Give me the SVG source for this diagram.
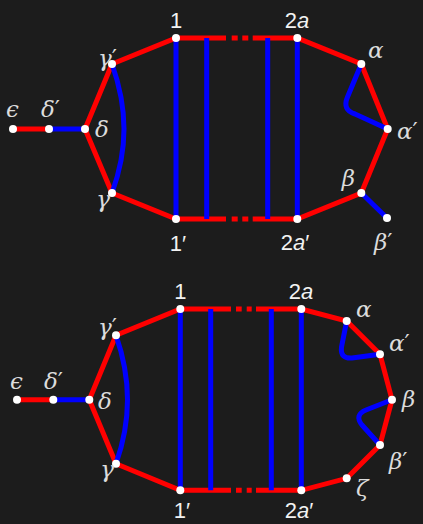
<svg xmlns="http://www.w3.org/2000/svg" width="423" height="524" viewBox="0 0 423 524">
<style>
.r{stroke:#ff0000;stroke-width:5;fill:none;stroke-linecap:butt}
.b{stroke:#0000ff;stroke-width:5;fill:none;stroke-linecap:butt;stroke-linejoin:round}
.n{fill:#ffffff}
.d{font-family:"Liberation Sans","DejaVu Sans",sans-serif;font-size:22px;fill:#f2f2f2;text-anchor:middle}
.g{font-family:"DejaVu Serif","Liberation Serif",serif;font-style:italic;font-size:23px;fill:#dcdcdc}
.e{text-anchor:end}
.i{font-style:italic}
.p{font-family:"DejaVu Sans",sans-serif;font-style:normal}
</style>
<rect width="423" height="524" fill="#1c1c1c"/>
<g id="connectors">
<path class="r" d="M13,129 L49,129"/>
<path class="r" d="M112,64 L85,129 L112,193"/>
<path class="r" d="M112,64 L176,38 L226,38 M231.7,38 L237.7,38 M242.3,38 L248.3,38 M252.7,38 L297.3,38 L361.3,64 L387.7,129 L361.3,193 L297.3,219 L252.7,219 M248.3,219 L242.3,219 M237.7,219 L231.7,219 M226,219 L176,219 L112,193"/>
<path class="b" d="M49,129 L85,129"/>
<path class="b" d="M112,64 Q124,98 124,129 Q124,160 112,193"/>
<path class="b" d="M176,38 L176,219 M206.7,38 L206.7,219 M267.7,38 L267.7,219 M297.3,38 L297.3,219"/>
<path class="b" d="M361.3,64 L347.5,97 Q342,110 355,114 L387.7,129"/>
<path class="b" d="M361.3,193 L387,218"/>
<path class="r" d="M17,399.7 L53.3,399.7"/>
<path class="r" d="M116,335.3 L89.3,399.7 L116,463.7"/>
<path class="r" d="M116,335.3 L180.3,309 L231,309 M236,309 L241.7,309 M246.7,309 L251.7,309 M256,309 L301.3,309 L346.7,321 L380,354.3 L392,399.7 L380,445 L346.7,478.3 L301.3,490.3 L256,490.3 M251.7,490.3 L246.7,490.3 M241.7,490.3 L236,490.3 M231,490.3 L180.3,490.3 L116,463.7"/>
<path class="b" d="M53.3,399.7 L89.3,399.7"/>
<path class="b" d="M116,335.3 Q127.5,368 127.5,399.7 Q127.5,431 116,463.7"/>
<path class="b" d="M180.3,309 L180.3,490.3 M210.7,309 L210.7,490.3 M271.3,309 L271.3,490.3 M301.3,309 L301.3,490.3"/>
<path class="b" d="M346.7,321 L341.5,347 Q340,359 352,358 L380,354.3"/>
<path class="b" d="M392,399.7 L366,410 Q354,415 362,425 L380,445"/>
</g>
<g id="t-eps"><circle class="n" cx="13" cy="129" r="4"/><text class="g" x="6" y="117">ϵ</text></g>
<g id="t-deltap"><circle class="n" cx="49" cy="129" r="4"/><text class="g" x="41" y="117">δ<tspan class="p">′</tspan></text></g>
<g id="t-delta"><circle class="n" cx="85" cy="129" r="4"/><text class="g" x="95" y="137">δ</text></g>
<g id="t-gammap"><circle class="n" cx="112" cy="64" r="4"/><text class="g e" x="117" y="66">γ<tspan class="p">′</tspan></text></g>
<g id="t-gamma"><circle class="n" cx="112" cy="193" r="4"/><text class="g e" x="110" y="207">γ</text></g>
<g id="t-1"><circle class="n" cx="176" cy="38" r="4"/><text class="d" x="176" y="28">1</text></g>
<g id="t-1p"><circle class="n" cx="176" cy="219" r="4"/><text class="d" x="178" y="251">1′</text></g>
<g id="t-2a"><circle class="n" cx="297.3" cy="38" r="4"/><text class="d" x="297" y="28">2<tspan class="i">a</tspan></text></g>
<g id="t-2ap"><circle class="n" cx="297.3" cy="219" r="4"/><text class="d" x="295" y="250">2<tspan class="i">a</tspan>′</text></g>
<g id="t-alpha"><circle class="n" cx="361.3" cy="64" r="4"/><text class="g" x="368" y="58">α</text></g>
<g id="t-alphap"><circle class="n" cx="387.7" cy="129" r="4"/><text class="g" x="397" y="139">α<tspan class="p">′</tspan></text></g>
<g id="t-beta"><circle class="n" cx="361.3" cy="193" r="4"/><text class="g e" x="355" y="186">β</text></g>
<g id="t-betap"><circle class="n" cx="387" cy="218" r="4"/><text class="g" x="374" y="250">β<tspan class="p">′</tspan></text></g>
<g id="b-eps"><circle class="n" cx="17" cy="399.7" r="4"/><text class="g" x="10" y="389">ϵ</text></g>
<g id="b-deltap"><circle class="n" cx="53.3" cy="399.7" r="4"/><text class="g" x="44" y="389">δ<tspan class="p">′</tspan></text></g>
<g id="b-delta"><circle class="n" cx="89.3" cy="399.7" r="4"/><text class="g" x="98" y="409">δ</text></g>
<g id="b-gammap"><circle class="n" cx="116" cy="335.3" r="4"/><text class="g e" x="117" y="335">γ<tspan class="p">′</tspan></text></g>
<g id="b-gamma"><circle class="n" cx="116" cy="463.7" r="4"/><text class="g e" x="114" y="477">γ</text></g>
<g id="b-1"><circle class="n" cx="180.3" cy="309" r="4"/><text class="d" x="180.3" y="299">1</text></g>
<g id="b-1p"><circle class="n" cx="180.3" cy="490.3" r="4"/><text class="d" x="182" y="518">1′</text></g>
<g id="b-2a"><circle class="n" cx="301.3" cy="309" r="4"/><text class="d" x="301" y="299">2<tspan class="i">a</tspan></text></g>
<g id="b-2ap"><circle class="n" cx="301.3" cy="490.3" r="4"/><text class="d" x="299" y="518">2<tspan class="i">a</tspan>′</text></g>
<g id="b-alpha"><circle class="n" cx="346.7" cy="321" r="4"/><text class="g" x="356" y="317">α</text></g>
<g id="b-alphap"><circle class="n" cx="380" cy="354.3" r="4"/><text class="g" x="389" y="351">α<tspan class="p">′</tspan></text></g>
<g id="b-beta"><circle class="n" cx="392" cy="399.7" r="4"/><text class="g" x="402" y="407">β</text></g>
<g id="b-betap"><circle class="n" cx="380" cy="445" r="4"/><text class="g" x="389" y="469">β<tspan class="p">′</tspan></text></g>
<g id="b-zeta"><circle class="n" cx="346.7" cy="478.3" r="4"/><text class="g" x="356" y="496">ζ</text></g>
</svg>
